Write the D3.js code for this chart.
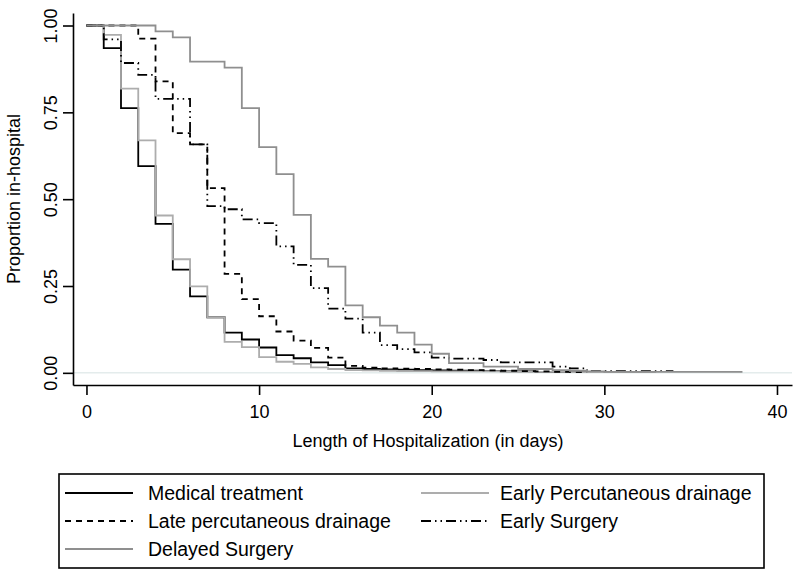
<!DOCTYPE html>
<html>
<head>
<meta charset="utf-8">
<script src="https://cdn.jsdelivr.net/npm/d3@7"></script>
<style>
  body { margin: 0; background: #fff; }
  text { font-family: "Liberation Sans", Arial, sans-serif; }
</style>
</head>
<body>
<div id="chart"></div>
<script>
// value held from day i to day i+1 (Kaplan-Meier style steps)
const medical = [1, 0.935, 0.762, 0.595, 0.429, 0.297, 0.22, 0.16, 0.116, 0.096,
  0.073, 0.051, 0.042, 0.03, 0.022, 0.013, 0.011, 0.01, 0.009, 0.008,
  0.007, 0.006, 0.006, 0.005, 0.004, 0.004, 0.003, 0.003, 0.002, 0.002];
const earlyPerc = [1, 0.973, 0.818, 0.669, 0.453, 0.327, 0.249, 0.16, 0.089, 0.074,
  0.045, 0.032, 0.026, 0.016, 0.011, 0.008, 0.007, 0.006, 0.005, 0.005,
  0.004, 0.004, 0.004, 0.004, 0.003, 0.003, 0.003, 0.003, 0.002, 0.002,
  0.002, 0.002, 0.002];
const latePerc = [1, 1, 1, 0.962, 0.839, 0.69, 0.658, 0.532, 0.285, 0.212,
  0.163, 0.119, 0.093, 0.072, 0.044, 0.02, 0.015, 0.013, 0.012, 0.011,
  0.01, 0.009, 0.008, 0.007, 0.006, 0.005, 0.004, 0.003, 0.002];
const earlySurgery = [1, 0.96, 0.892, 0.858, 0.789, 0.789, 0.658, 0.48, 0.471, 0.442,
  0.431, 0.364, 0.311, 0.244, 0.185, 0.156, 0.116, 0.08, 0.068, 0.059,
  0.044, 0.041, 0.041, 0.037, 0.03, 0.03, 0.03, 0.018, 0.013, 0.005,
  0.005, 0.005, 0.005, 0.005];
const delayedSurgery = [1, 1, 1, 1, 0.983, 0.966, 0.896, 0.896, 0.879, 0.762,
  0.65, 0.572, 0.455, 0.328, 0.306, 0.194, 0.16, 0.136, 0.116, 0.081,
  0.055, 0.028, 0.028, 0.018, 0.018, 0.011, 0.011, 0.008, 0.006, 0.004,
  0.003, 0.003, 0.003, 0.003, 0.003, 0.003, 0.003, 0.003];

const xTicks = [0, 10, 20, 30, 40];
const yTicks = [0, 0.25, 0.5, 0.75, 1];

const series = [
  { name: "Medical treatment", values: medical, color: "#000", dash: null },
  { name: "Early Percutaneous drainage", values: earlyPerc, color: "#adadad", dash: null },
  { name: "Late percutaneous drainage", values: latePerc, color: "#000", dash: "6,5" },
  { name: "Early Surgery", values: earlySurgery, color: "#000", dash: "10,4,1.5,4,1.5,4" },
  { name: "Delayed Surgery", values: delayedSurgery, color: "#8f8f8f", dash: null },
];

const width = 800, height = 578;
const svg = d3.select("#chart").append("svg")
  .attr("width", width)
  .attr("height", height);

// axes span the plot region a bit beyond the data range
const x = d3.scaleLinear().domain([-0.78, 40.87]).range([73, 792]);
const y = d3.scaleLinear().domain([-0.035, 1.036]).range([385, 13]);

// faint zero line
svg.append("line")
  .attr("x1", 73).attr("x2", 792)
  .attr("y1", y(0)).attr("y2", y(0))
  .attr("stroke", "#e4ecec")
  .attr("stroke-width", 1.5);

const line = d3.line()
  .x((d) => x(d.day))
  .y((d) => y(d.v))
  .curve(d3.curveStepAfter);

series.forEach((s) => {
  let pts = s.values.map((v, i) => ({ day: i, v: v }));
  pts.push({ day: s.values.length, v: s.values[s.values.length - 1] });
  svg.append("path")
    .datum(pts)
    .attr("d", line)
    .attr("fill", "none")
    .attr("stroke", s.color)
    .attr("stroke-width", 1.8)
    .attr("stroke-dasharray", s.dash);
});

//BEGIN: AXES
const xAxis = svg.append("g")
  .attr("transform", "translate(0,385)")
  .call(d3.axisBottom(x).tickValues(xTicks).tickSize(10).tickSizeOuter(0).tickPadding(10));
const yAxis = svg.append("g")
  .attr("transform", "translate(73,0)")
  .call(d3.axisLeft(y).tickValues(yTicks).tickSize(10).tickSizeOuter(0)
    .tickFormat(d3.format(".2f")));

[xAxis, yAxis].forEach((g) => {
  g.select(".domain").attr("stroke", "#000").attr("stroke-width", 1.6);
  g.selectAll(".tick line").attr("stroke", "#000").attr("stroke-width", 1.6);
  g.selectAll("text")
    .attr("font-family", "Liberation Sans, Arial, sans-serif")
    .attr("font-size", 18)
    .attr("fill", "#000");
});

// rotated y tick labels, like the original
yAxis.selectAll(".tick text")
  .attr("x", null).attr("dy", null)
  .attr("text-anchor", "middle")
  .attr("transform", "translate(-16,0) rotate(-90)");

svg.append("text")
  .attr("x", 428)
  .attr("y", 447)
  .attr("text-anchor", "middle")
  .attr("font-size", 18)
  .text("Length of Hospitalization (in days)");

svg.append("text")
  .attr("transform", "translate(20,199) rotate(-90)")
  .attr("text-anchor", "middle")
  .attr("font-size", 18)
  .text("Proportion in-hospital");
//END: AXES

//BEGIN: LEGEND
svg.append("rect")
  .attr("x", 59).attr("y", 474)
  .attr("width", 705).attr("height", 94)
  .attr("fill", "none")
  .attr("stroke", "#000")
  .attr("stroke-width", 1.6);

const cols = [65, 421];
const labelX = [148, 500];
const rows = [493, 521, 549];
series.forEach((s, i) => {
  let cx = cols[i % 2];
  let cy = rows[Math.floor(i / 2)];
  svg.append("line")
    .attr("x1", cx).attr("x2", cx + 68)
    .attr("y1", cy).attr("y2", cy)
    .attr("stroke", s.color)
    .attr("stroke-width", 1.8)
    .attr("stroke-dasharray", s.dash);
  svg.append("text")
    .attr("x", labelX[i % 2])
    .attr("y", cy + 7)
    .attr("font-size", 19.5)
    .text(s.name);
});
//END: LEGEND
</script>
</body>
</html>
